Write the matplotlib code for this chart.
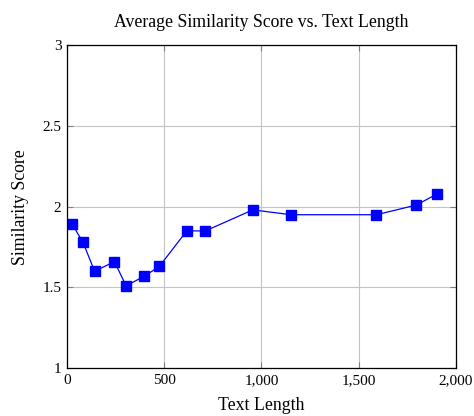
import matplotlib
matplotlib.use("Agg")
import matplotlib.pyplot as plt
from matplotlib.ticker import FuncFormatter

# values
text_length = [27, 82, 142, 244, 304, 398, 475, 616, 712, 956, 1153, 1592, 1798, 1906]
similarity = [1.89, 1.78, 1.60, 1.66, 1.51, 1.57, 1.63, 1.85, 1.85, 1.98, 1.95, 1.95, 2.01, 2.08]

x_ticks = [0, 500, 1000, 1500, 2000]
y_ticks = [1, 1.5, 2, 2.5, 3]

plt.rcParams['font.family'] = ['Liberation Serif', 'DejaVu Serif']

fig = plt.figure(figsize=(4.74, 4.16), dpi=100)
ax = fig.add_axes([0.1414, 0.1147, 0.82, 0.7771])

ax.plot(text_length, similarity, color='blue', linewidth=0.9,
        marker='s', markersize=7.5, markerfacecolor='blue', markeredgecolor='blue')

ax.set_xlim(0, 2000)
ax.set_ylim(1, 3)
ax.set_xticks(x_ticks)
ax.set_yticks(y_ticks)
ax.xaxis.set_major_formatter(FuncFormatter(lambda v, p: f"{int(v):,}"))
ax.yaxis.set_major_formatter(FuncFormatter(lambda v, p: f"{v:g}"))

ax.grid(True, color='#c4c4c4', linewidth=0.8)
ax.set_axisbelow(True)
ax.tick_params(direction='in', top=True, right=True, length=4, width=0.8,
               color='#7f7f7f', labelsize=11, pad=4)
for s in ax.spines.values():
    s.set_linewidth(0.9)

ax.set_title('Average Similarity Score vs. Text Length', fontsize=12.8, pad=13)
ax.set_xlabel('Text Length', fontsize=12.8, labelpad=7)
ax.set_ylabel('Similarity Score', fontsize=12.8, labelpad=10)

fig.savefig('out.png', dpi=100)
